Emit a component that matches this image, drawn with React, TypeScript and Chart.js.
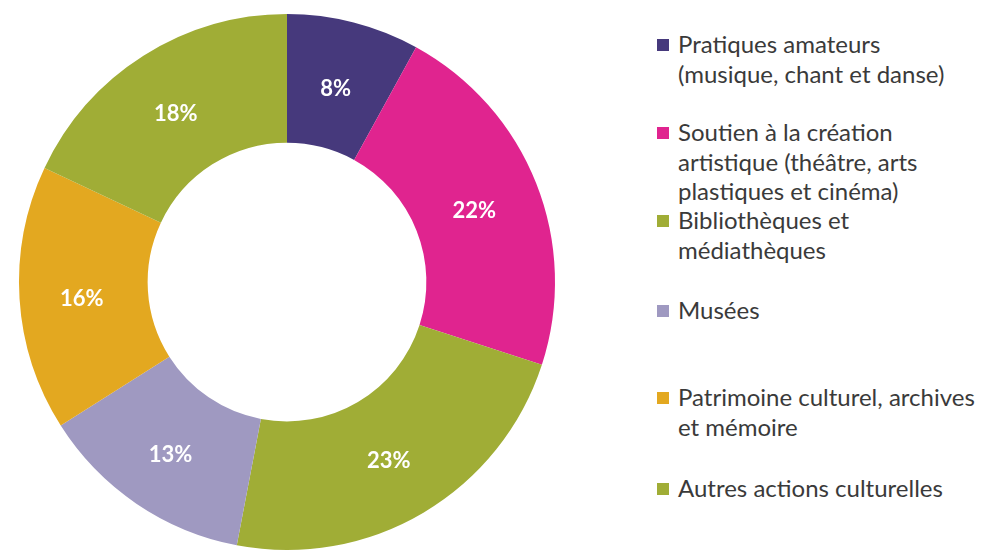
import React, { useEffect, useRef } from "react";
import { Chart, registerables } from "chart.js";

Chart.register(...registerables);

const categories: string[][] = [
  ["Pratiques amateurs", "(musique, chant et danse)"],
  ["Soutien à la création", "artistique (théâtre, arts", "plastiques et cinéma)"],
  ["Bibliothèques et", "médiathèques"],
  ["Musées"],
  ["Patrimoine culturel, archives", "et mémoire"],
  ["Autres actions culturelles"],
];
const values: number[] = [8, 22, 23, 13, 16, 18];
const colors: string[] = ["#46397c", "#e0248f", "#a0ad36", "#9f99c1", "#e3a820", "#a0ad36"];
const legendTops: number[] = [29, 117, 205, 295, 382, 473];

const labelPlugin = {
  id: "sliceLabels",
  afterDatasetsDraw(chart: any) {
    const ctx = chart.ctx;
    const meta = chart.getDatasetMeta(0);
    ctx.save();
    ctx.fillStyle = "#ffffff";
    ctx.font = "bold 22px Lato, 'Open Sans', sans-serif";
    ctx.textAlign = "center";
    ctx.textBaseline = "middle";
    meta.data.forEach((el: any, i: number) => {
      const p = el.tooltipPosition();
      ctx.fillText(values[i] + "%", p.x - 2, p.y + 4);
    });
    ctx.restore();
  },
};

export default function App() {
  const ref = useRef<HTMLCanvasElement | null>(null);
  useEffect(() => {
    if (!ref.current) return;
    const chart = new Chart(ref.current, {
      type: "doughnut",
      data: {
        labels: categories.map((c) => c.join(" ")),
        datasets: [
          {
            data: values,
            backgroundColor: colors,
            borderWidth: 0,
          },
        ],
      },
      options: {
        animation: false,
        responsive: false,
        cutout: "52%",
        layout: { padding: { left: 19, right: 19, top: 14, bottom: 1 } },
        plugins: { legend: { display: false }, tooltip: { enabled: false } },
      },
      plugins: [labelPlugin],
    });
    return () => chart.destroy();
  }, []);

  return (
    <div
      style={{
        position: "absolute",
        left: 0,
        top: 0,
        width: 982,
        height: 551,
        background: "#ffffff",
        overflow: "hidden",
        fontFamily: "Lato, 'Open Sans', sans-serif",
      }}
    >
      <canvas ref={ref} width={574} height={551} style={{ position: "absolute", left: 0, top: 0 }} />
      {categories.map((lines, i) => (
        <div
          key={i}
          style={{
            position: "absolute",
            left: 657,
            top: legendTops[i],
            display: "flex",
            alignItems: "flex-start",
          }}
        >
          <div
            style={{
              width: 12,
              height: 12,
              background: colors[i],
              marginTop: 10,
              marginRight: 9,
            }}
          />
          <div style={{ color: "#3a3a3a", fontSize: 24, lineHeight: "29.5px", whiteSpace: "nowrap" }}>
            {lines.map((l, j) => (
              <div key={j}>{l}</div>
            ))}
          </div>
        </div>
      ))}
    </div>
  );
}
